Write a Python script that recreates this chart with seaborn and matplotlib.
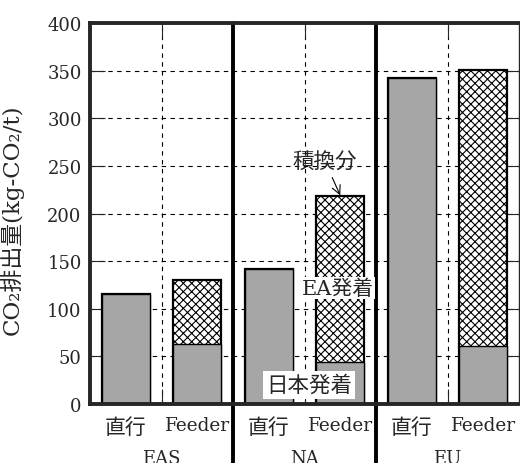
import pandas as pd
import matplotlib as mpl
mpl.use("Agg")
import matplotlib.pyplot as plt
import matplotlib.transforms as mtransforms
import seaborn as sns

# データ (kg-CO2/t)
regions = ['EAS', 'NA', 'EU']
modes = ['直行', 'Feeder']
direct = [115, 142, 342]        # 直行
feeder_total = [130, 218, 351]  # Feeder 合計 (日本発着 + EA発着)
feeder_jp = [63, 44, 61]        # Feeder のうち日本発着

sns.set_style('ticks')
plt.rcParams['font.family'] = ['DejaVu Serif', 'Noto Sans CJK JP']
plt.rcParams['hatch.linewidth'] = 0.8
fam = ['DejaVu Serif', 'Noto Sans CJK JP']

cats = []
tops = []
bottoms = []
for i, r in enumerate(regions):
    cats += [r + '-' + modes[0], r + '-' + modes[1]]
    tops += [direct[i], feeder_total[i]]
    bottoms += [direct[i], feeder_jp[i]]
df = pd.DataFrame({'cat': cats, 'top': tops, 'bottom': bottoms})

fig = plt.figure(figsize=(5.2, 4.64), dpi=100)
ax = fig.add_axes([90 / 520, 59 / 464, 429 / 520, 381 / 464])

# 積換分 (ハッチ) を合計高さで描き、その上に灰色部分を重ねる
sns.barplot(data=df, x='cat', y='top', color='white', saturation=1,
            edgecolor='black', linewidth=1.6, hatch='xxxx', width=2 / 3, ax=ax)
sns.barplot(data=df, x='cat', y='bottom', color='#a6a6a6', saturation=1,
            edgecolor='black', linewidth=1.0, width=2 / 3, ax=ax)

ax.set_xlim(-0.5, 5.5)
ax.set_ylim(0, 400)
ax.set_yticks(range(0, 401, 50))
ax.set_xticks([0.5, 2.5, 4.5])
ax.set_xticklabels([])
ax.set_xticks(range(6), minor=True)
ax.set_xticklabels(modes * 3, minor=True, family=fam)
for lab in ax.get_xticklabels(minor=True):
    lab.set_fontsize(15 if lab.get_text() == '直行' else 13.3)
ax.tick_params(axis='x', which='minor', length=0, pad=9)
ax.tick_params(axis='x', which='major', direction='in', length=11, width=0.8,
               top=True, bottom=True)
ax.tick_params(axis='y', direction='in', length=11, width=0.8, right=True,
               labelsize=13, pad=6)
for lab in ax.get_yticklabels():
    lab.set_family(fam)

ax.set_axisbelow(True)
ax.grid(True, which='major', color='black', linestyle=(0, (4, 4)), linewidth=0.8)

ax.set_xlabel('')
ax.set_ylabel('CO₂排出量(kg-CO₂/t)', fontsize=16.5, family=fam)
ax.yaxis.set_label_coords(-0.154, 0.485)

for side in ['left', 'top', 'bottom']:
    ax.spines[side].set_linewidth(2.8)
ax.spines['right'].set_linewidth(1.0)

# 地域の区切り線
for xs in [1.5, 3.5]:
    ax.axvline(xs, ymin=-0.16, ymax=1, color='black', linewidth=2.8, clip_on=False)

trans = mtransforms.blended_transform_factory(ax.transData, ax.transAxes)
for i, r in enumerate(regions):
    ax.text(2 * i + 0.5, -0.142, r, transform=trans, ha='center', va='center',
            fontsize=13, family=fam)

ax.annotate('積換分', xy=(3.0, 219), xytext=(2.79, 254), ha='center', va='center',
            fontsize=15.5, family=fam,
            arrowprops=dict(arrowstyle='->', color='black', lw=0.8,
                            shrinkA=1, shrinkB=0))
ax.text(2.96, 122, 'EA発着', ha='center', va='center', fontsize=15, family=fam,
        bbox=dict(facecolor='white', edgecolor='none', pad=1))
ax.text(2.56, 20, '日本発着', ha='center', va='center', fontsize=15.5, family=fam,
        bbox=dict(facecolor='white', edgecolor='none', pad=2))

fig.savefig('out.png', dpi=100)
